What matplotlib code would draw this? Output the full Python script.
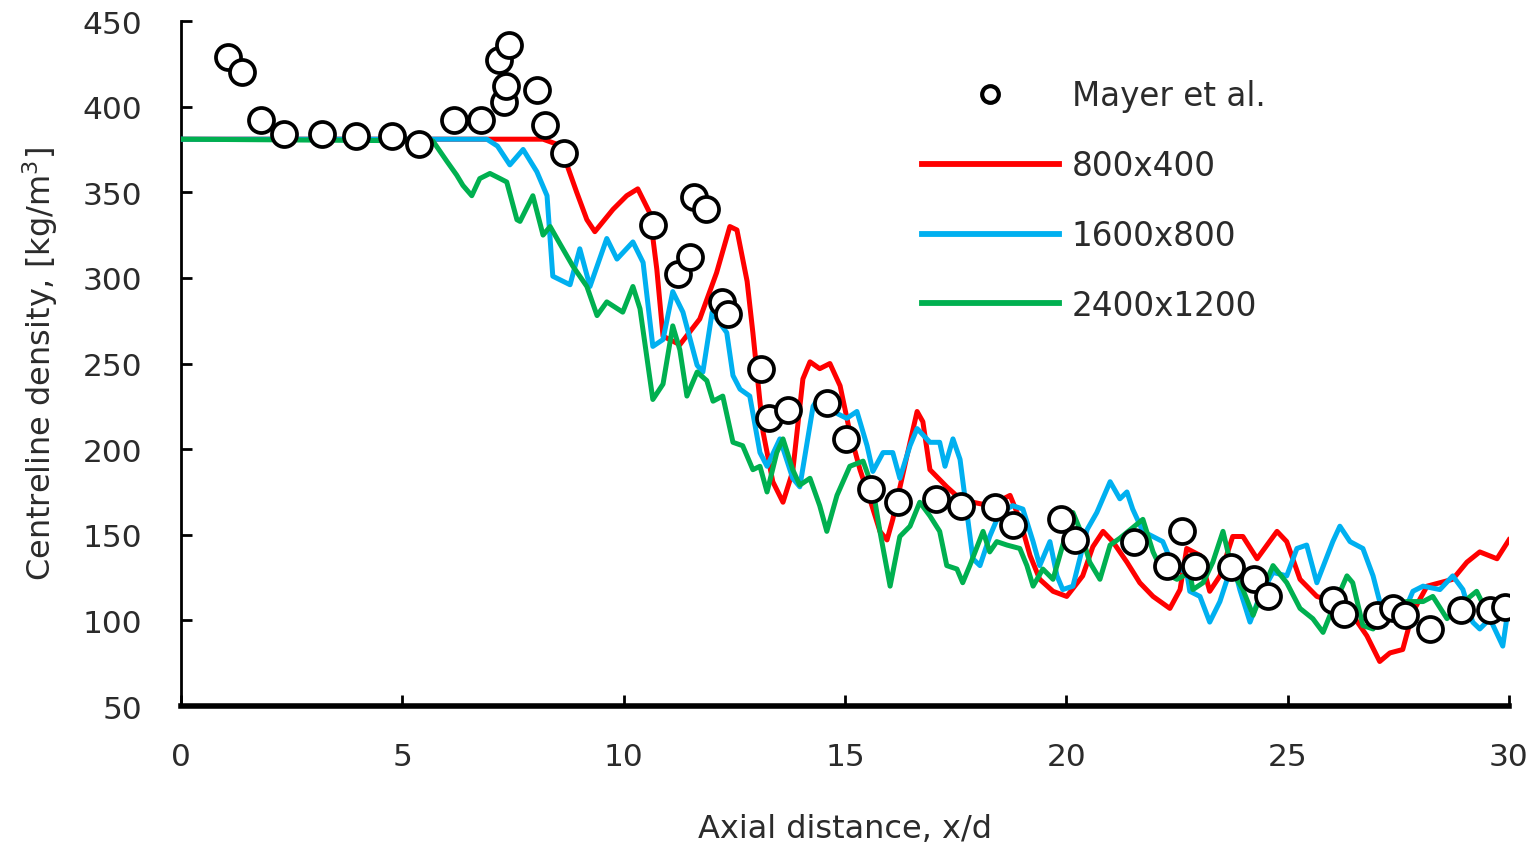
import matplotlib
matplotlib.use("Agg")
import matplotlib.pyplot as plt
from matplotlib.lines import Line2D

# Mayer et al. experimental points
exp_x = [1.06, 1.38, 1.81, 2.33, 3.18, 3.95, 4.77, 5.38, 6.17, 6.78, 7.30, 7.34, 7.18, 7.41,
         8.04, 8.22, 8.65, 10.66, 11.23, 11.50, 11.59, 11.86, 12.22, 12.36, 13.10, 13.28,
         13.71, 14.59, 15.02, 15.59, 16.20, 17.05, 17.62, 18.39, 18.79, 19.88, 20.19, 21.53,
         22.27, 22.61, 22.91, 23.72, 24.24, 24.55, 26.02, 26.27, 27.02, 27.38, 27.65, 28.21,
         28.91, 29.57, 29.91]
exp_y = [429, 420, 392, 384, 384, 383, 383, 378, 392, 392, 403, 412, 427, 436,
         410, 389, 373, 331, 302, 312, 347, 340, 286, 279, 247, 218,
         223, 227, 206, 177, 169, 171, 167, 166, 156, 159, 147, 146,
         132, 152, 132, 131, 124, 114, 112, 104, 103, 107, 103, 95,
         106, 106, 108]

# 800x400
red_x = [0, 5.7, 8.18, 8.5, 8.72, 8.94, 9.17, 9.35, 9.76, 10.07, 10.32, 10.59, 10.75, 10.89, 11.27,
         11.72, 12.1, 12.4, 12.56, 12.79, 12.92, 13.15, 13.37, 13.6, 13.82, 14.05, 14.21,
         14.43, 14.66, 14.89, 15.11, 15.34, 15.56, 15.79, 15.95, 16.08, 16.4, 16.63, 16.76,
         16.92, 17.3, 17.6, 17.89, 18.27, 18.73, 18.95, 19.18, 19.4, 19.7, 20.01, 20.37,
         20.6, 20.83, 21.05, 21.37, 21.66, 21.96, 22.34, 22.57, 22.72, 23.02, 23.24, 23.47,
         23.76, 23.99, 24.31, 24.76, 24.98, 25.28, 25.66, 26.02, 26.47, 26.79, 27.08, 27.31,
         27.6, 27.83, 28.15, 28.44, 28.73, 29.05, 29.34, 29.73, 30.0]
red_y = [381, 381, 381, 378, 366, 350, 334, 327, 340, 348, 352, 338, 305, 266, 261,
         276, 303, 330, 328, 298, 268, 210, 181, 169, 187, 241, 251,
         247, 250, 237, 210, 188, 171, 152, 147, 159, 196, 222, 216,
         188, 178, 171, 169, 167, 173, 159, 138, 124, 117, 114, 126,
         143, 152, 146, 134, 122, 114, 107, 118, 142, 138, 117, 126,
         149, 149, 136, 152, 146, 124, 114, 111, 103, 91, 76, 81,
         83, 105, 120, 122, 124, 134, 140, 136, 147]

# 1600x800
blue_x = [0, 6.91, 7.15, 7.43, 7.73, 8.04, 8.27, 8.40, 8.79, 9.01, 9.24, 9.62, 9.85, 10.21,
          10.44, 10.66, 10.89, 11.11, 11.34, 11.66, 11.79, 12.0, 12.33, 12.47, 12.63, 12.85,
          13.08, 13.24, 13.53, 13.82, 13.98, 14.28, 14.43, 14.73, 15.04, 15.27, 15.5, 15.63,
          15.86, 16.08, 16.24, 16.47, 16.63, 16.92, 17.14, 17.26, 17.44, 17.6, 17.89, 18.05,
          18.27, 18.5, 18.79, 19.02, 19.25, 19.4, 19.63, 19.79, 19.92, 20.15, 20.47, 20.69,
          20.99, 21.21, 21.37, 21.5, 21.73, 22.18, 22.41, 22.72, 22.79, 23.02, 23.24, 23.47,
          23.76, 23.92, 24.15, 24.37, 24.67, 24.98, 25.21, 25.43, 25.66, 26.02, 26.18, 26.41,
          26.7, 26.93, 27.08, 27.31, 27.6, 27.83, 28.06, 28.44, 28.73, 28.96, 29.18, 29.34,
          29.57, 29.86, 30.0]
blue_y = [381, 381, 377, 366, 375, 362, 348, 301, 296, 317, 295, 323, 311, 321,
          309, 260, 264, 292, 280, 249, 245, 280, 268, 243, 235, 231,
          198, 190, 206, 183, 178, 225, 231, 222, 218, 222, 202, 187,
          198, 198, 183, 202, 212, 204, 204, 190, 206, 194, 136, 132,
          149, 163, 167, 165, 146, 132, 146, 126, 118, 120, 153, 163,
          181, 171, 175, 165, 152, 146, 132, 128, 117, 114, 99, 111,
          134, 118, 99, 114, 128, 126, 142, 144, 122, 146, 155, 146,
          142, 126, 111, 103, 103, 117, 120, 118, 126, 118, 99, 95,
          101, 85, 110]

# 2400x1200
green_x = [0, 5.69, 6.01, 6.23, 6.37, 6.57, 6.75, 6.98, 7.21, 7.36, 7.59, 7.66, 7.95, 8.18,
           8.34, 8.56, 8.85, 9.17, 9.40, 9.62, 9.98, 10.21, 10.37, 10.66, 10.89, 11.11,
           11.27, 11.43, 11.66, 11.88, 12.02, 12.24, 12.47, 12.69, 12.92, 13.08, 13.24, 13.46,
           13.60, 13.82, 13.98, 14.21, 14.43, 14.59, 14.82, 15.11, 15.41, 15.63, 15.79, 16.02,
           16.24, 16.47, 16.69, 16.92, 17.14, 17.30, 17.53, 17.66, 17.82, 18.12, 18.27, 18.43,
           18.66, 18.95, 19.11, 19.25, 19.47, 19.70, 19.92, 20.15, 20.31, 20.53, 20.76, 20.99,
           21.21, 21.73, 21.96, 22.18, 22.50, 22.79, 22.86, 23.09, 23.31, 23.54, 23.76, 23.99,
           24.22, 24.44, 24.67, 24.98, 25.28, 25.57, 25.80, 26.02, 26.34, 26.47, 26.70, 26.93,
           27.24, 27.69, 28.06, 28.28, 28.60, 28.89, 29.27, 29.50, 29.79, 29.95]
green_y = [381, 380, 368, 360, 354, 348, 358, 361, 358, 356, 334, 333, 348, 325,
           330, 320, 307, 295, 278, 286, 280, 295, 282, 229, 238, 272,
           258, 231, 245, 240, 228, 231, 204, 202, 188, 190, 175, 198,
           206, 188, 179, 183, 167, 152, 173, 190, 193, 177, 152, 120,
           149, 155, 169, 161, 152, 132, 130, 122, 132, 152, 140, 146,
           144, 142, 132, 120, 130, 124, 144, 163, 153, 134, 124, 144,
           148, 159, 140, 128, 124, 128, 118, 122, 134, 152, 128, 118,
           103, 118, 132, 122, 107, 101, 93, 107, 126, 122, 97, 95,
           109, 111, 111, 114, 101, 109, 117, 105, 107, 108]

x_ticks = [0, 5, 10, 15, 20, 25, 30]
y_ticks = [50, 100, 150, 200, 250, 300, 350, 400, 450]

RED = "#FF0000"
BLUE = "#00B0F0"
GREEN = "#00B050"
TEXT = "#2b2b2b"

plt.rcParams["font.family"] = ["DejaVu Sans"]

fig = plt.figure(figsize=(15.36, 8.54), dpi=100)
ax = fig.add_axes([0.1178, 0.1721, 0.8646, 0.8021])

lw = 3.6
ax.plot(red_x, red_y, color=RED, lw=lw, zorder=2, solid_joinstyle="round")
ax.plot(blue_x, blue_y, color=BLUE, lw=lw, zorder=3, solid_joinstyle="round")
ax.plot(green_x, green_y, color=GREEN, lw=lw, zorder=4, solid_joinstyle="round")
ax.plot(exp_x, exp_y, linestyle="none", marker="o", markersize=18,
        markerfacecolor="white", markeredgecolor="black", markeredgewidth=2.7, zorder=5)

ax.set_xlim(0, 30)
ax.set_ylim(50, 450)
ax.set_xticks(x_ticks)
ax.set_yticks(y_ticks)

for side in ("top", "right"):
    ax.spines[side].set_visible(False)
ax.spines["bottom"].set_linewidth(4)
ax.spines["left"].set_linewidth(2)

ax.tick_params(axis="x", direction="in", length=8, width=2, pad=26,
               labelsize=22.5, labelcolor=TEXT)
ax.tick_params(axis="y", direction="in", length=8, width=2, pad=28,
               labelsize=22.5, labelcolor=TEXT)

ax.set_xlabel("Axial distance, x/d", fontsize=23, color=TEXT, labelpad=30)
ax.set_ylabel("Centreline density, [kg/m$^3$]", fontsize=23, color=TEXT, labelpad=16)

handles = [
    Line2D([], [], linestyle="none", marker="o", markersize=12, markerfacecolor="white",
           markeredgecolor="black", markeredgewidth=3),
    Line2D([], [], color=RED, lw=4.2),
    Line2D([], [], color=BLUE, lw=4.2),
    Line2D([], [], color=GREEN, lw=4.2),
]
labels = ["Mayer et al.", "800x400", "1600x800", "2400x1200"]
leg = ax.legend(handles, labels, loc="upper left", bbox_to_anchor=(0.600, 0.906),
                bbox_transform=fig.transFigure, frameon=False, fontsize=23.5,
                handlelength=4.2, handletextpad=0.4, labelspacing=1.13,
                borderpad=0, borderaxespad=0)
for t in leg.get_texts():
    t.set_color(TEXT)

fig.savefig("out.png", dpi=100)
